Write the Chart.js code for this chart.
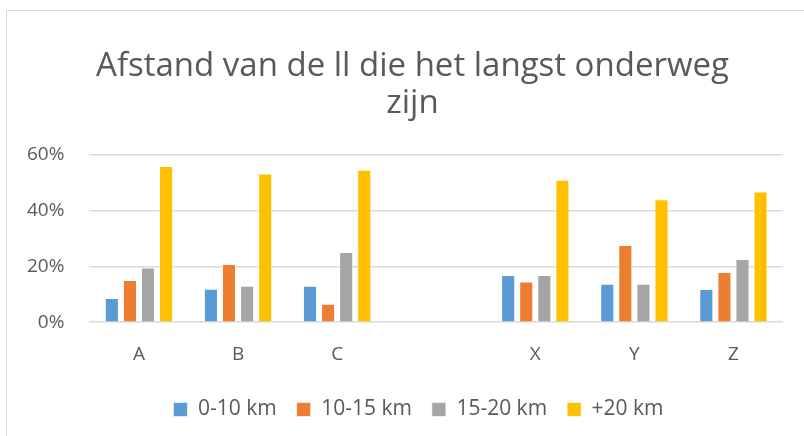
<!DOCTYPE html>
<html>
<head>
<meta charset="utf-8">
<script src="https://cdn.jsdelivr.net/npm/chart.js@4"></script>
<style>
    html, body { margin: 0; padding: 0; background: #fff; overflow: hidden; }
    #frame { position: absolute; left: 6px; top: 10px; width: 820px; height: 450px; border: 1px solid #d9d9d9; }
    #wrap { position: absolute; left: 0; top: 0; width: 804px; height: 436px; }
</style>
</head>
<body>
<div id="frame"></div>
<div id="wrap"><canvas id="chart"></canvas></div>
<script>
// categorieën (lege kolom tussen C en X)
const categories = ["A", "B", "C", "", "X", "Y", "Z"];
const seriesNames = ["0-10 km", "10-15 km", "15-20 km", "+20 km"];
// waarden in procenten
const km0_10 = [8.7, 12.0, 13.1, null, 16.9, 13.8, 11.9];
const km10_15 = [15.1, 20.9, 6.6, null, 14.6, 27.7, 18.0];
const km15_20 = [19.6, 13.1, 25.2, null, 16.9, 13.8, 22.7];
const km20plus = [56.0, 53.3, 54.7, null, 51.1, 44.1, 46.9];
const yTicks = [0, 20, 40, 60];

const colors = ["#5B9BD5", "#ED7D31", "#A5A5A5", "#FFC000"];
const values = [km0_10, km10_15, km15_20, km20plus];
const textColor = "#595959";
const fontFamily = "'Open Sans', 'Noto Sans', sans-serif";

// titel en legenda iets naar rechts, zoals in het origineel (midden van het kader)
const shiftBoxes = {
    id: "shiftBoxes",
    afterLayout(chart) {
        const t = chart.titleBlock;
        if (t) { t.left += 20; t.right += 20; }
        const l = chart.legend;
        if (l) { l.left += 26; l.right += 26; }
    },
};

new Chart(document.getElementById("chart"), {
    type: "bar",
    data: {
        labels: categories,
        datasets: seriesNames.map((name, i) => ({
            label: name,
            data: values[i],
            backgroundColor: colors[i],
            borderColor: "rgba(255,255,255,0.6)",
            borderWidth: 1,
            barPercentage: 0.78,
            categoryPercentage: 0.73,
        })),
    },
    options: {
        responsive: true,
        maintainAspectRatio: false,
        animation: false,
        layout: { padding: { left: 2, right: 21, top: 38, bottom: 6 } },
        plugins: {
            title: {
                display: true,
                text: ["Afstand van de ll die het langst onderweg", "zijn"],
                color: textColor,
                font: { family: fontFamily, size: 33, weight: "normal", lineHeight: 1.12 },
                padding: { top: 10, bottom: 33 },
            },
            legend: {
                position: "bottom",
                labels: {
                    color: textColor,
                    font: { family: fontFamily, size: 21 },
                    boxWidth: 14,
                    boxHeight: 14,
                    padding: 20,
                },
            },
            tooltip: { enabled: false },
        },
        scales: {
            x: {
                grid: { display: false },
                border: { display: false },
                ticks: { color: textColor, font: { family: fontFamily, size: 19 }, padding: 13 },
            },
            y: {
                min: 0,
                max: 60,
                afterBuildTicks: axis => { axis.ticks = yTicks.map(v => ({ value: v })); },
                grid: { color: "#d9d9d9", lineWidth: 1.5, drawTicks: false },
                border: { display: false },
                ticks: {
                    color: textColor,
                    font: { family: fontFamily, size: 19 },
                    padding: 25,
                    callback: v => v + "%",
                },
            },
        },
    },
    plugins: [shiftBoxes],
});
</script>
</body>
</html>
